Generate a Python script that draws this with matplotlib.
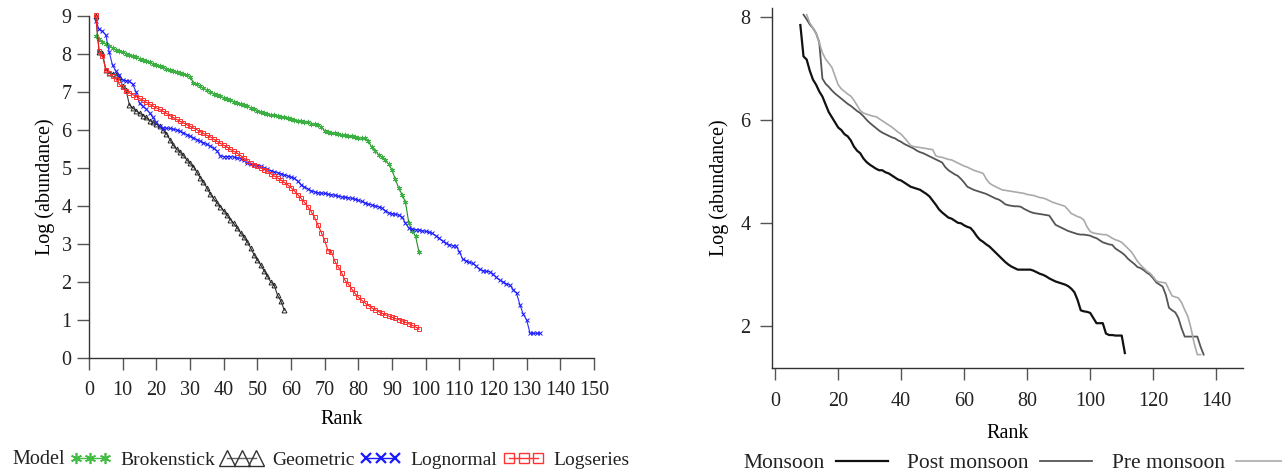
"""Rank-abundance plots: fitted models (left) and seasonal curves (right)."""

import matplotlib

matplotlib.use("Agg")
import matplotlib.pyplot as plt  # noqa: E402
import numpy as np  # noqa: E402
from matplotlib.lines import Line2D  # noqa: E402

# ---- left panel: model fits, log abundance per rank (rank starts at 2) ----
model_labels = ["Brokenstick", "Geometric", "Lognormal", "Logseries"]
model_start_rank = 2

brokenstick = [
    8.47, 8.40, 8.32, 8.27, 8.22, 8.16, 8.11, 8.07, 8.04, 8.01, 7.97, 7.94, 7.92, 7.88,
    7.85, 7.81, 7.78, 7.74, 7.71, 7.68, 7.65, 7.61, 7.58, 7.55, 7.53, 7.50, 7.47, 7.45,
    7.40, 7.25, 7.20, 7.15, 7.10, 7.05, 7.00, 6.96, 6.92, 6.89, 6.85, 6.81, 6.78, 6.75,
    6.72, 6.69, 6.66, 6.62, 6.58, 6.55, 6.51, 6.47, 6.44, 6.42, 6.40, 6.39, 6.37, 6.35,
    6.33, 6.31, 6.29, 6.27, 6.25, 6.24, 6.22, 6.20, 6.17, 6.15, 6.13, 6.08, 5.98, 5.95,
    5.93, 5.91, 5.89, 5.88, 5.86, 5.84, 5.83, 5.82, 5.80, 5.79, 5.78, 5.70, 5.55, 5.45,
    5.35, 5.28, 5.20, 5.10, 4.95, 4.70, 4.47, 4.30, 4.10, 3.55, 3.35, 3.20, 2.80,
]
geometric = [
    9.00, 8.06, 8.02, 7.58, 7.50, 7.48, 7.45, 7.40, 7.15, 7.05, 6.66, 6.58, 6.50, 6.45,
    6.38, 6.33, 6.25, 6.20, 6.15, 6.10, 6.00, 5.90, 5.75, 5.60, 5.50, 5.42, 5.33, 5.22,
    5.12, 5.03, 4.90, 4.75, 4.62, 4.48, 4.32, 4.20, 4.08, 3.98, 3.88, 3.76, 3.64, 3.54,
    3.42, 3.30, 3.19, 3.05, 2.90, 2.72, 2.58, 2.45, 2.30, 2.15, 2.00, 1.92, 1.65, 1.50,
    1.26,
]
lognormal = [
    8.88, 8.65, 8.60, 8.50, 8.05, 7.70, 7.55, 7.45, 7.32, 7.30, 7.28, 7.20, 7.00, 6.70,
    6.62, 6.55, 6.45, 6.33, 6.20, 6.10, 6.06, 6.05, 6.04, 6.02, 6.00, 5.97, 5.93, 5.88,
    5.84, 5.80, 5.75, 5.71, 5.67, 5.62, 5.58, 5.52, 5.45, 5.32, 5.30, 5.30, 5.30, 5.29,
    5.27, 5.25, 5.20, 5.13, 5.10, 5.08, 5.06, 5.04, 5.01, 4.97, 4.93, 4.90, 4.88, 4.85,
    4.82, 4.79, 4.76, 4.73, 4.65, 4.56, 4.50, 4.45, 4.40, 4.37, 4.35, 4.34, 4.33, 4.31,
    4.30, 4.28, 4.26, 4.24, 4.23, 4.22, 4.20, 4.18, 4.15, 4.12, 4.08, 4.05, 4.03, 4.00,
    3.98, 3.95, 3.88, 3.82, 3.80, 3.78, 3.76, 3.70, 3.55, 3.42, 3.40, 3.38, 3.37, 3.35,
    3.33, 3.31, 3.28, 3.22, 3.15, 3.08, 3.02, 2.98, 2.96, 2.95, 2.80, 2.60, 2.56, 2.52,
    2.49, 2.42, 2.33, 2.30, 2.28, 2.27, 2.20, 2.12, 2.05, 2.00, 1.95, 1.92, 1.80, 1.70,
    1.40, 1.15, 1.00, 0.65, 0.65, 0.65, 0.65,
]
logseries = [
    9.03, 8.09, 7.95, 7.58, 7.50, 7.42, 7.35, 7.20, 7.12, 7.02, 6.98, 6.93, 6.88, 6.83,
    6.78, 6.73, 6.68, 6.63, 6.58, 6.54, 6.49, 6.44, 6.38, 6.33, 6.28, 6.23, 6.19, 6.14,
    6.10, 6.05, 6.01, 5.96, 5.91, 5.86, 5.82, 5.76, 5.70, 5.65, 5.60, 5.55, 5.49, 5.44,
    5.39, 5.33, 5.26, 5.19, 5.13, 5.09, 5.05, 5.00, 4.96, 4.91, 4.85, 4.79, 4.74, 4.68,
    4.62, 4.56, 4.48, 4.40, 4.30, 4.20, 4.10, 3.98, 3.85, 3.70, 3.50, 3.30, 3.10, 2.82,
    2.80, 2.55, 2.40, 2.25, 2.05, 1.95, 1.82, 1.70, 1.60, 1.52, 1.45, 1.38, 1.32, 1.27,
    1.22, 1.18, 1.14, 1.10, 1.07, 1.04, 1.01, 0.98, 0.94, 0.90, 0.86, 0.82, 0.76,
]

# ---- right panel: seasonal rank-abundance curves ----
season_labels = ["Monsoon", "Post monsoon", "Pre monsoon"]
season_start_rank = [8, 9, 10]

monsoon = [
    7.84, 7.23, 7.17, 6.95, 6.78, 6.68, 6.55, 6.45, 6.30, 6.15, 6.05, 5.95, 5.85, 5.80,
    5.72, 5.68, 5.60, 5.48, 5.40, 5.35, 5.25, 5.18, 5.13, 5.09, 5.05, 5.02, 5.02, 4.98,
    4.96, 4.92, 4.88, 4.84, 4.82, 4.78, 4.74, 4.70, 4.68, 4.66, 4.64, 4.60, 4.56, 4.51,
    4.43, 4.35, 4.26, 4.20, 4.15, 4.10, 4.08, 4.04, 4.00, 3.99, 3.95, 3.92, 3.90, 3.83,
    3.74, 3.67, 3.63, 3.58, 3.54, 3.48, 3.42, 3.36, 3.30, 3.24, 3.19, 3.15, 3.12, 3.09,
    3.09, 3.09, 3.09, 3.09, 3.07, 3.04, 3.01, 2.99, 2.96, 2.92, 2.89, 2.86, 2.84, 2.82,
    2.80, 2.77, 2.72, 2.65, 2.50, 2.30, 2.28, 2.27, 2.25, 2.15, 2.05, 2.05, 2.05, 1.85,
    1.82, 1.82, 1.81, 1.81, 1.81, 1.47,
]
post_monsoon = [
    8.04, 7.95, 7.85, 7.78, 7.68, 7.50, 6.80, 6.70, 6.64, 6.57, 6.51, 6.46, 6.41, 6.36,
    6.31, 6.27, 6.22, 6.17, 6.13, 6.07, 6.00, 5.94, 5.89, 5.84, 5.79, 5.75, 5.72, 5.69,
    5.66, 5.64, 5.60, 5.57, 5.53, 5.50, 5.47, 5.44, 5.40, 5.37, 5.35, 5.32, 5.29, 5.26,
    5.23, 5.20, 5.17, 5.08, 5.02, 4.98, 4.94, 4.91, 4.85, 4.78, 4.70, 4.67, 4.64, 4.62,
    4.60, 4.58, 4.56, 4.53, 4.50, 4.47, 4.45, 4.41, 4.36, 4.34, 4.33, 4.32, 4.32, 4.31,
    4.27, 4.24, 4.21, 4.19, 4.18, 4.17, 4.16, 4.15, 4.14, 4.05, 3.96, 3.93, 3.90, 3.87,
    3.84, 3.82, 3.80, 3.78, 3.77, 3.77, 3.76, 3.75, 3.72, 3.70, 3.66, 3.62, 3.60, 3.58,
    3.57, 3.50, 3.46, 3.42, 3.37, 3.30, 3.25, 3.20, 3.14, 3.12, 3.08, 3.03, 2.99, 2.92,
    2.84, 2.80, 2.76, 2.60, 2.35, 2.30, 2.26, 2.15, 1.95, 1.79, 1.79, 1.79, 1.79, 1.79,
    1.60, 1.44,
]
pre_monsoon = [
    8.04, 7.88, 7.78, 7.68, 7.50, 7.30, 7.18, 7.10, 7.02, 6.85, 6.68, 6.60, 6.55, 6.50,
    6.46, 6.38, 6.28, 6.18, 6.13, 6.11, 6.09, 6.07, 6.06, 6.02, 5.98, 5.94, 5.90, 5.86,
    5.81, 5.76, 5.72, 5.65, 5.58, 5.50, 5.48, 5.47, 5.46, 5.45, 5.44, 5.43, 5.42, 5.30,
    5.28, 5.27, 5.25, 5.23, 5.22, 5.19, 5.16, 5.13, 5.10, 5.08, 5.05, 5.02, 5.00, 4.98,
    4.96, 4.85, 4.77, 4.73, 4.70, 4.67, 4.64, 4.63, 4.62, 4.61, 4.60, 4.59, 4.58, 4.57,
    4.55, 4.54, 4.53, 4.51, 4.49, 4.48, 4.46, 4.43, 4.40, 4.38, 4.36, 4.34, 4.32, 4.25,
    4.18, 4.15, 4.12, 4.10, 4.05, 3.92, 3.83, 3.80, 3.79, 3.78, 3.77, 3.77, 3.74, 3.70,
    3.67, 3.65, 3.62, 3.56, 3.50, 3.44, 3.35, 3.25, 3.18, 3.12, 3.06, 3.02, 2.95, 2.87,
    2.85, 2.84, 2.83, 2.70, 2.58, 2.56, 2.54, 2.45, 2.31, 2.18, 1.95, 1.66, 1.44, 1.44,
]

left_xticks = list(range(0, 151, 10))
left_yticks = list(range(0, 10))
right_xticks = [0, 20, 40, 60, 80, 100, 120, 140]
right_yticks = [2, 4, 6, 8]

plt.rcParams["font.family"] = ["Liberation Serif", "DejaVu Serif"]
plt.rcParams["font.size"] = 14

W, H = 1282, 472
fig = plt.figure(figsize=(W / 100, H / 100), dpi=100)


def px_axes(x0, y0, x1, y1):
    """Axes from pixel box (top-left origin)."""
    return fig.add_axes([x0 / W, 1 - y1 / H, (x1 - x0) / W, (y1 - y0) / H])


def style_axes(ax, xpad, ypad):
    for side in ("top", "right"):
        ax.spines[side].set_visible(False)
    for side in ("left", "bottom"):
        ax.spines[side].set_color("#333333")
        ax.spines[side].set_linewidth(1.0)
    ax.tick_params(axis="both", direction="out", length=8.5, width=1.0,
                   color="#555555", labelsize=14.5, labelcolor="#222222")
    ax.tick_params(axis="x", pad=xpad)
    ax.tick_params(axis="y", pad=ypad)


# ---- left panel ----
ax1 = px_axes(89, 16, 594, 358)
model_styles = [
    dict(color="#238b23", marker=(6, 2, 0), ms=3.8, mec="#3cb043", mew=0.7),
    dict(color="#333333", marker="^", ms=3.5, mfc="none", mec="#222222", mew=0.7),
    dict(color="#2a2aff", marker="x", ms=3.5, mec="#1a1aff", mew=0.7),
    dict(color="#ff1a1a", marker="s", ms=3.5, mfc="none", mec="#ff3030", mew=0.7),
]
for values, style in zip([brokenstick, geometric, lognormal, logseries], model_styles):
    ranks = np.arange(model_start_rank, model_start_rank + len(values))
    ax1.plot(ranks, values, lw=0.8, clip_on=False, **style)

ax1.set_xlim(0, 150)
ax1.set_ylim(0, 9)
ax1.set_xticks(left_xticks)
ax1.set_yticks(left_yticks)
style_axes(ax1, xpad=8, ypad=4)
ax1.set_xlabel("Rank", fontsize=14.5, labelpad=7)
ax1.set_ylabel("Log (abundance)", fontsize=14.5, labelpad=5)

legend_handles = [
    Line2D([], [], color="#44bb44", marker=(6, 2, 0), ms=8, mew=1.2, lw=1.0),
    Line2D([], [], color="#666666", marker="^", ms=11, mfc="none", mec="#333333", mew=1.0, lw=1.0),
    Line2D([], [], color="#1a1aff", marker="x", ms=7, mew=1.6, lw=1.0),
    Line2D([], [], color="#ff3333", marker="s", ms=7, mfc="none", mew=1.0, lw=1.0),
]
fig.text(12 / W, 1 - 460 / H, "Model", fontsize=14.5, va="center", ha="left", color="#222222")
fig.legend(legend_handles, model_labels, loc="center left",
           bbox_to_anchor=(70 / W, 1 - 460 / H), ncol=4, frameon=False,
           numpoints=3, handlelength=2.1, handletextpad=0.5, columnspacing=0.3,
           borderpad=0, borderaxespad=0, fontsize=14, labelcolor="#222222")

# ---- right panel ----
ax2 = px_axes(772, 8, 1243, 368)
season_styles = [
    dict(color="#111111", lw=1.6),
    dict(color="#555555", lw=1.3),
    dict(color="#aaaaaa", lw=1.2),
]
for values, start, style in zip([monsoon, post_monsoon, pre_monsoon], season_start_rank, season_styles):
    ranks = np.arange(start, start + len(values))
    ax2.plot(ranks, values, **style)

ax2.set_xlim(-1, 148.5)
ax2.set_ylim(1.18, 8.17)
ax2.set_xticks(right_xticks)
ax2.set_yticks(right_yticks)
style_axes(ax2, xpad=8.5, ypad=7)
ax2.set_xlabel("Rank", fontsize=14.5, labelpad=9.5)
ax2.set_ylabel("Log (abundance)", fontsize=14.5, labelpad=8)

season_handles = [Line2D([], [], **s) for s in season_styles]
fig.legend(season_handles, season_labels, loc="center left",
           bbox_to_anchor=(743 / W, 1 - 463 / H), ncol=3, frameon=False,
           markerfirst=False, handlelength=2.4, handletextpad=0.55, columnspacing=0.9,
           borderpad=0, borderaxespad=0, fontsize=15.5, labelcolor="#222222")

fig.savefig("out.png", dpi=100)
